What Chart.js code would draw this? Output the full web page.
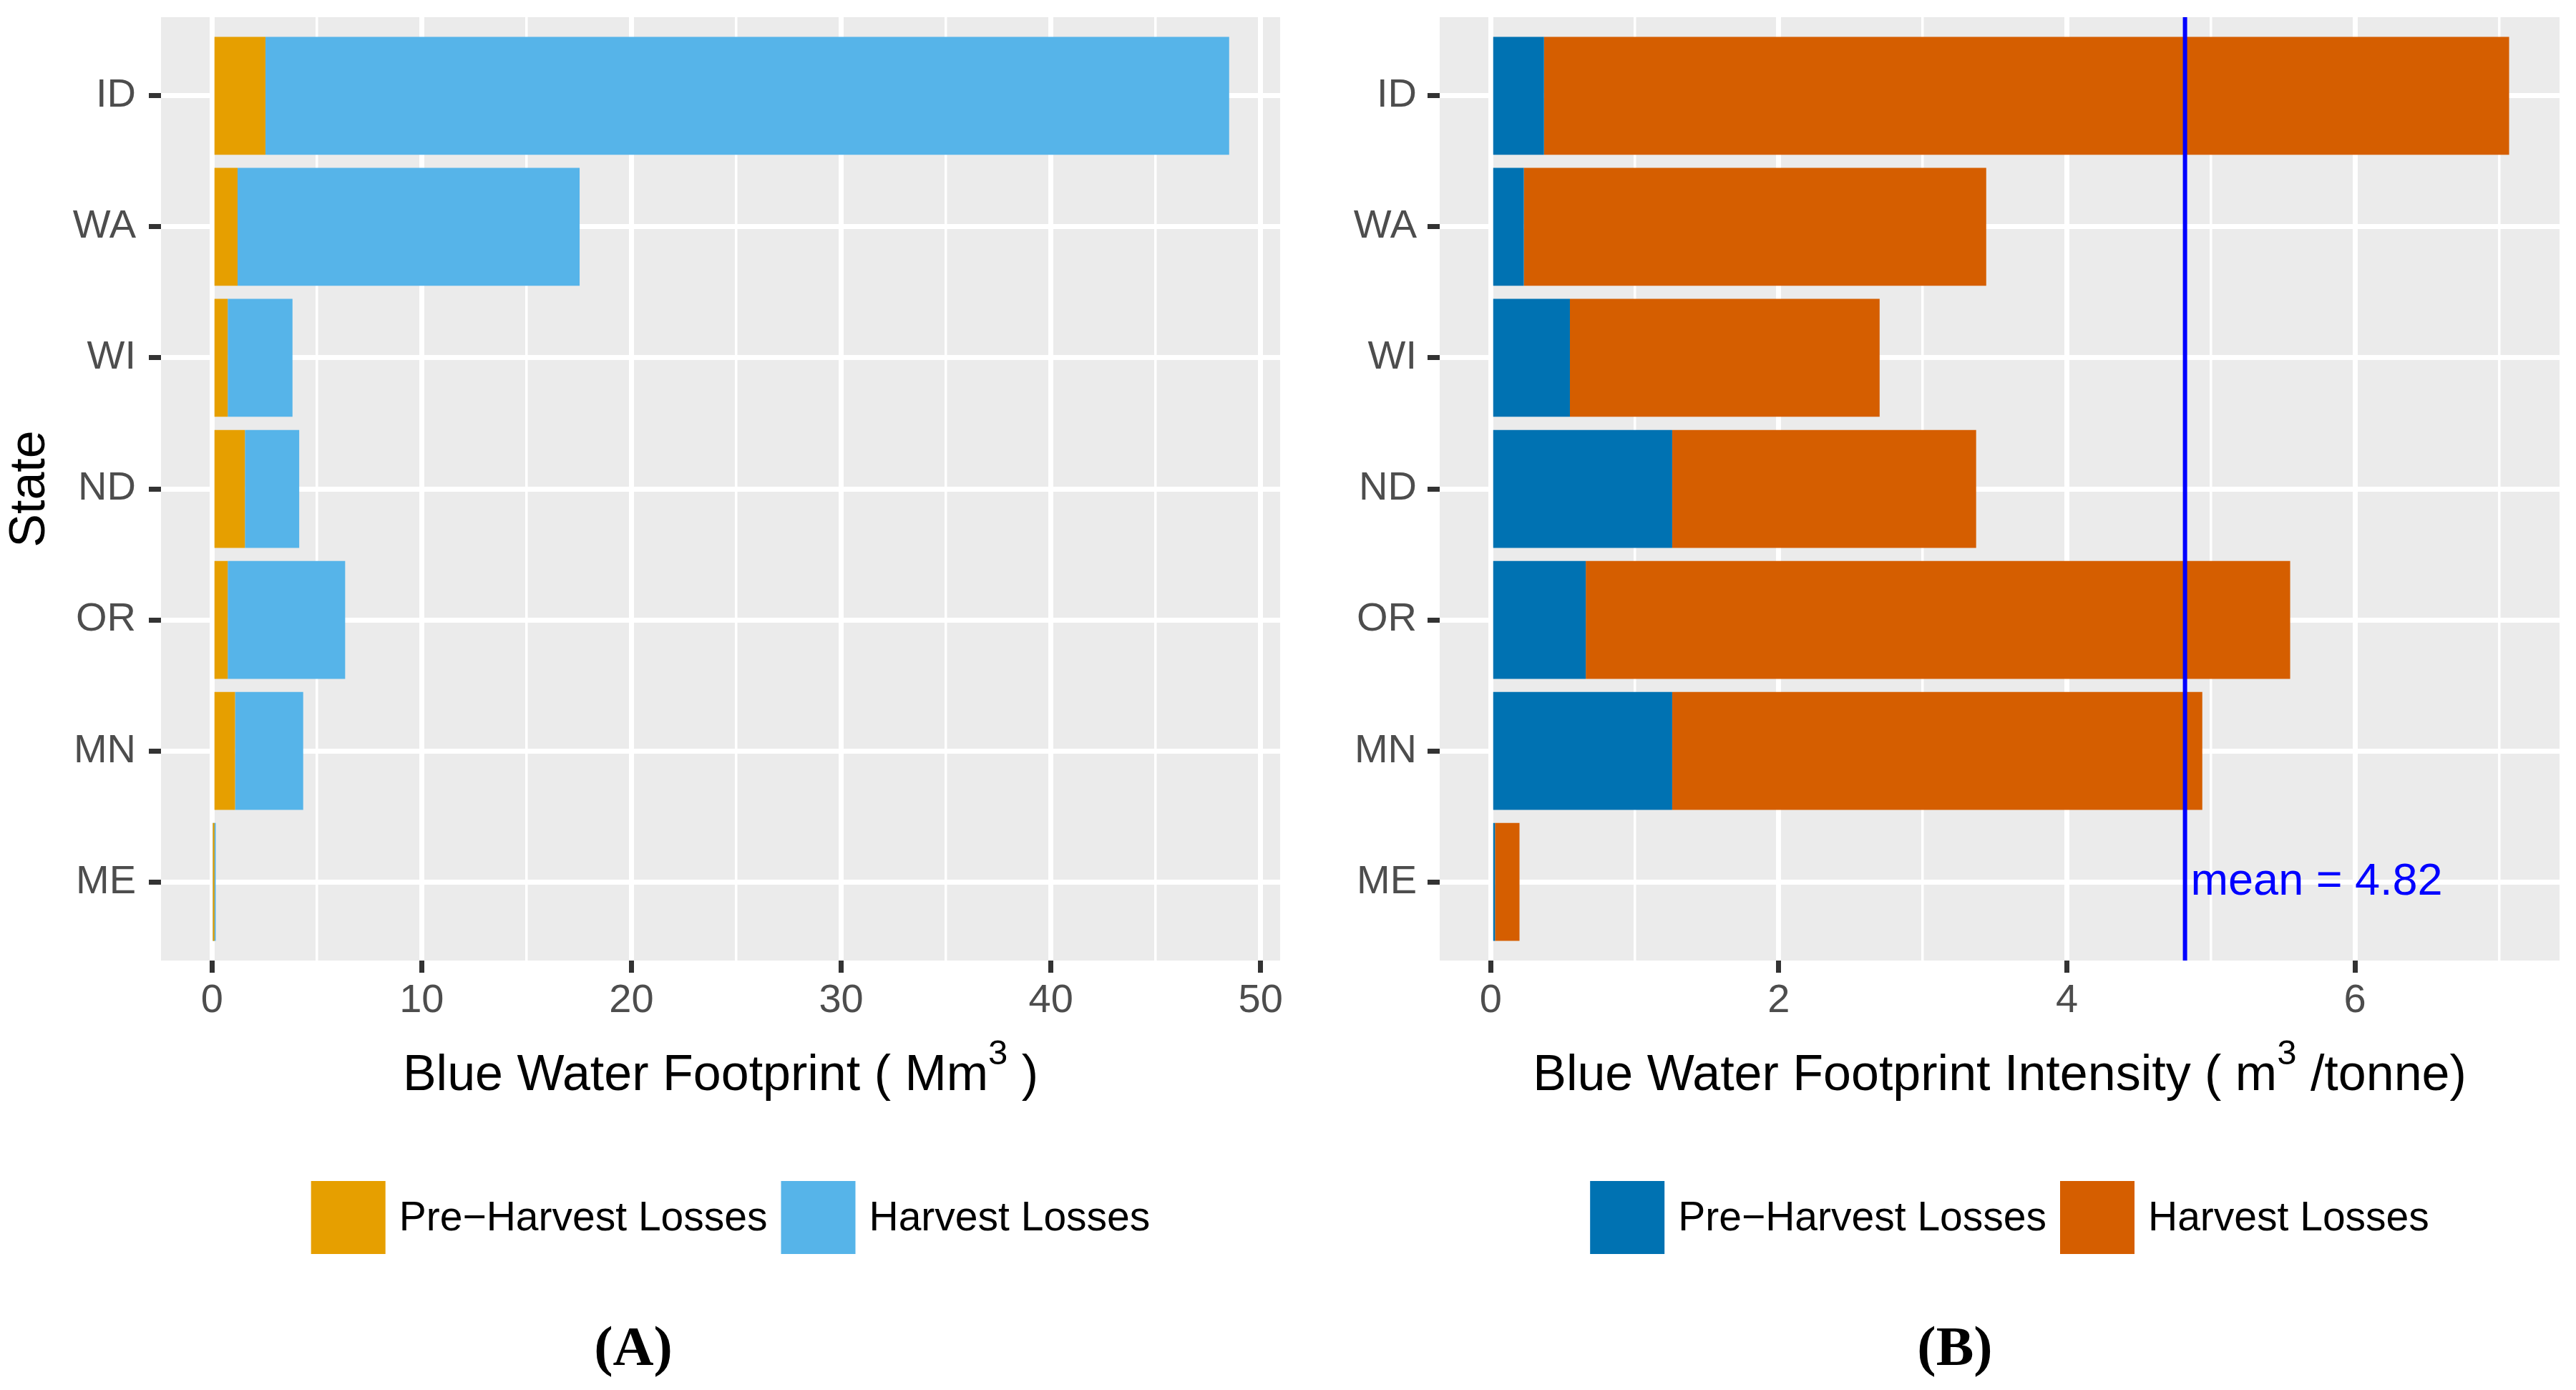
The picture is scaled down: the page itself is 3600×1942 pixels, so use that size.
<!DOCTYPE html>
<html>
<head>
<meta charset="utf-8">
<script src="https://cdn.jsdelivr.net/npm/chart.js@4.4.0/dist/chart.umd.min.js"></script>
<style>
  html, body { margin: 0; padding: 0; background: #ffffff; }
  .panel { position: absolute; top: 0; width: 1800px; height: 1942px; }
</style>
</head>
<body>
<div class="panel" style="left:0px"><canvas id="chartA" width="1800" height="1942"></canvas></div>
<div class="panel" style="left:1800px"><canvas id="chartB" width="1800" height="1942"></canvas></div>
<script>
// data
const states = ["ID", "WA", "WI", "ND", "OR", "MN", "ME"];
const seriesNames = ["Pre\u2212Harvest Losses", "Harvest Losses"];

const footprintPre = [2.55, 1.22, 0.75, 1.57, 0.75, 1.10, 0.04];
const footprintHarvest = [45.95, 16.31, 3.09, 2.59, 5.60, 3.25, 0.14];
const footprintTicks = [0, 10, 20, 30, 40, 50];
const footprintMinor = [5, 15, 25, 35, 45];

const intensityPre = [0.37, 0.23, 0.55, 1.26, 0.66, 1.26, 0.03];
const intensityHarvest = [6.70, 3.21, 2.15, 2.11, 4.89, 3.68, 0.17];
const intensityTicks = [0, 2, 4, 6];
const intensityMinor = [1, 3, 5, 7];
const meanIntensity = 4.82;

const SANS = '"Liberation Sans", Arial, sans-serif';

function points(values) {
  return values.map((v, i) => ({ x: v, y: i }));
}

// ggplot-ish panel: grey background, titles, legend, caption
const decor = {
  id: "decor",
  beforeDraw(chart) {
    const { ctx, chartArea: a } = chart;
    ctx.save();
    ctx.fillStyle = "#EBEBEB";
    ctx.fillRect(a.left, a.top, a.right - a.left, a.bottom - a.top);
    ctx.restore();
  },
  afterDatasetsDraw(chart, args, opts) {
    if (opts.mean == null) return;
    const { ctx, chartArea: a, scales } = chart;
    const x = scales.x.getPixelForValue(opts.mean);
    ctx.save();
    ctx.strokeStyle = "#0000FF";
    ctx.lineWidth = 6;
    ctx.beginPath();
    ctx.moveTo(x, a.top);
    ctx.lineTo(x, a.bottom);
    ctx.stroke();
    ctx.fillStyle = "#0000FF";
    ctx.font = "63px " + SANS;
    ctx.textBaseline = "middle";
    ctx.textAlign = "left";
    ctx.fillText("mean = " + opts.mean.toFixed(2), x + 8, scales.y.getPixelForValue(states.length - 1));
    ctx.restore();
  },
  afterDraw(chart, args, opts) {
    const { ctx, chartArea: a } = chart;
    const cx = (a.left + a.right) / 2;
    ctx.save();
    ctx.fillStyle = "#000000";
    ctx.textAlign = "left";
    ctx.textBaseline = "alphabetic";

    // x title with superscript
    const big = "70px " + SANS, small = "49px " + SANS;
    let w = 0;
    opts.xTitle.forEach(p => { ctx.font = p.sup ? small : big; w += ctx.measureText(p.text).width; });
    let x = cx - w / 2;
    opts.xTitle.forEach(p => {
      ctx.font = p.sup ? small : big;
      ctx.fillText(p.text, x, p.sup ? 1487 : 1523);
      x += ctx.measureText(p.text).width;
    });

    // y title
    if (opts.yTitle) {
      ctx.save();
      ctx.font = big;
      ctx.textAlign = "center";
      ctx.textBaseline = "middle";
      ctx.translate(43, (a.top + a.bottom) / 2);
      ctx.rotate(-Math.PI / 2);
      ctx.fillText(opts.yTitle, 0, 0);
      ctx.restore();
    }

    // legend
    const keyW = 104, keyH = 102, gap = 19, ly = 1701;
    ctx.font = "57px " + SANS;
    ctx.textBaseline = "middle";
    const items = chart.data.datasets.map(d => ({ label: d.label, color: d.backgroundColor, w: ctx.measureText(d.label).width }));
    let total = 0;
    items.forEach((it, i) => { total += keyW + gap + it.w + (i ? gap : 0); });
    let lx = cx + 14 - total / 2;
    items.forEach(it => {
      ctx.fillStyle = it.color;
      ctx.fillRect(lx, ly - keyH / 2, keyW, keyH);
      ctx.fillStyle = "#000000";
      ctx.fillText(it.label, lx + keyW + gap, ly + 2);
      lx += keyW + gap + it.w + gap;
    });

    // caption
    ctx.font = "bold 79px \"Liberation Serif\", serif";
    ctx.textAlign = "center";
    ctx.textBaseline = "middle";
    ctx.fillText(opts.caption, opts.captionX, 1887);
    ctx.restore();
  }
};

function makeChart(id, cfg) {
  const majorSet = new Set(cfg.ticks);
  const allTicks = cfg.ticks.concat(cfg.minor).sort((p, q) => p - q);
  return new Chart(document.getElementById(id), {
    type: "bar",
    data: {
      datasets: [
        { label: seriesNames[0], data: points(cfg.pre), backgroundColor: cfg.colors[0] },
        { label: seriesNames[1], data: points(cfg.harvest), backgroundColor: cfg.colors[1] }
      ]
    },
    plugins: [decor],
    options: {
      indexAxis: "y",
      responsive: false,
      devicePixelRatio: 1,
      animation: false,
      events: [],
      barPercentage: 0.9,
      categoryPercentage: 1.0,
      layout: { padding: { left: 0, right: cfg.padRight, top: 24, bottom: 0 } },
      scales: {
        x: {
          type: "linear",
          stacked: true,
          min: cfg.min,
          max: cfg.max,
          afterBuildTicks: s => { s.ticks = allTicks.map(v => ({ value: v, minor: !majorSet.has(v) })); },
          afterFit: s => { s.height = 600; s.paddingLeft = 0; s.paddingRight = 0; },
          border: { display: false },
          grid: {
            color: "#FFFFFF",
            lineWidth: c => (c.tick && c.tick.minor ? 3.5 : 7),
            tickColor: c => (c.tick && c.tick.minor ? "rgba(0,0,0,0)" : "#333333"),
            tickWidth: 7,
            tickLength: 17
          },
          ticks: {
            autoSkip: false,
            maxRotation: 0,
            padding: 6,
            color: "#4D4D4D",
            font: { family: SANS, size: 56 },
            callback: v => (majorSet.has(v) ? String(v) : "")
          }
        },
        y: {
          type: "linear",
          stacked: true,
          reverse: true,
          offset: false,
          min: -0.6,
          max: states.length - 0.4,
          afterBuildTicks: s => { s.ticks = states.map((_, i) => ({ value: i })); },
          afterFit: s => { s.width = cfg.yWidth; s.paddingTop = 0; s.paddingBottom = 0; },
          border: { display: false },
          grid: {
            offset: false,
            color: "#FFFFFF",
            lineWidth: 7,
            tickColor: "#333333",
            tickWidth: 7,
            tickLength: 17
          },
          ticks: {
            padding: cfg.yPad,
            color: "#4D4D4D",
            font: { family: SANS, size: 56 },
            callback: v => states[v]
          }
        }
      },
      plugins: {
        legend: { display: false },
        tooltip: { enabled: false },
        decor: {
          xTitle: cfg.xTitle,
          yTitle: cfg.yTitle,
          caption: cfg.caption,
          captionX: cfg.captionX,
          mean: cfg.mean
        }
      }
    }
  });
}

makeChart("chartA", {
  pre: footprintPre,
  harvest: footprintHarvest,
  colors: ["#E69F00", "#56B4E9"],
  min: -2.43, max: 50.93,
  ticks: footprintTicks, minor: footprintMinor,
  yWidth: 225, yPad: 18, padRight: 11,
  xTitle: [{ text: "Blue Water Footprint ( Mm" }, { text: "3", sup: true }, { text: " )" }],
  yTitle: "State",
  caption: "(A)", captionX: 885,
  mean: null
});

makeChart("chartB", {
  pre: intensityPre,
  harvest: intensityHarvest,
  colors: ["#0072B2", "#D55E00"],
  min: -0.354, max: 7.42,
  ticks: intensityTicks, minor: intensityMinor,
  yWidth: 212, yPad: 15, padRight: 23,
  xTitle: [{ text: "Blue Water Footprint Intensity ( m" }, { text: "3", sup: true }, { text: " /tonne)" }],
  yTitle: null,
  caption: "(B)", captionX: 932,
  mean: meanIntensity
});
</script>
</body>
</html>
